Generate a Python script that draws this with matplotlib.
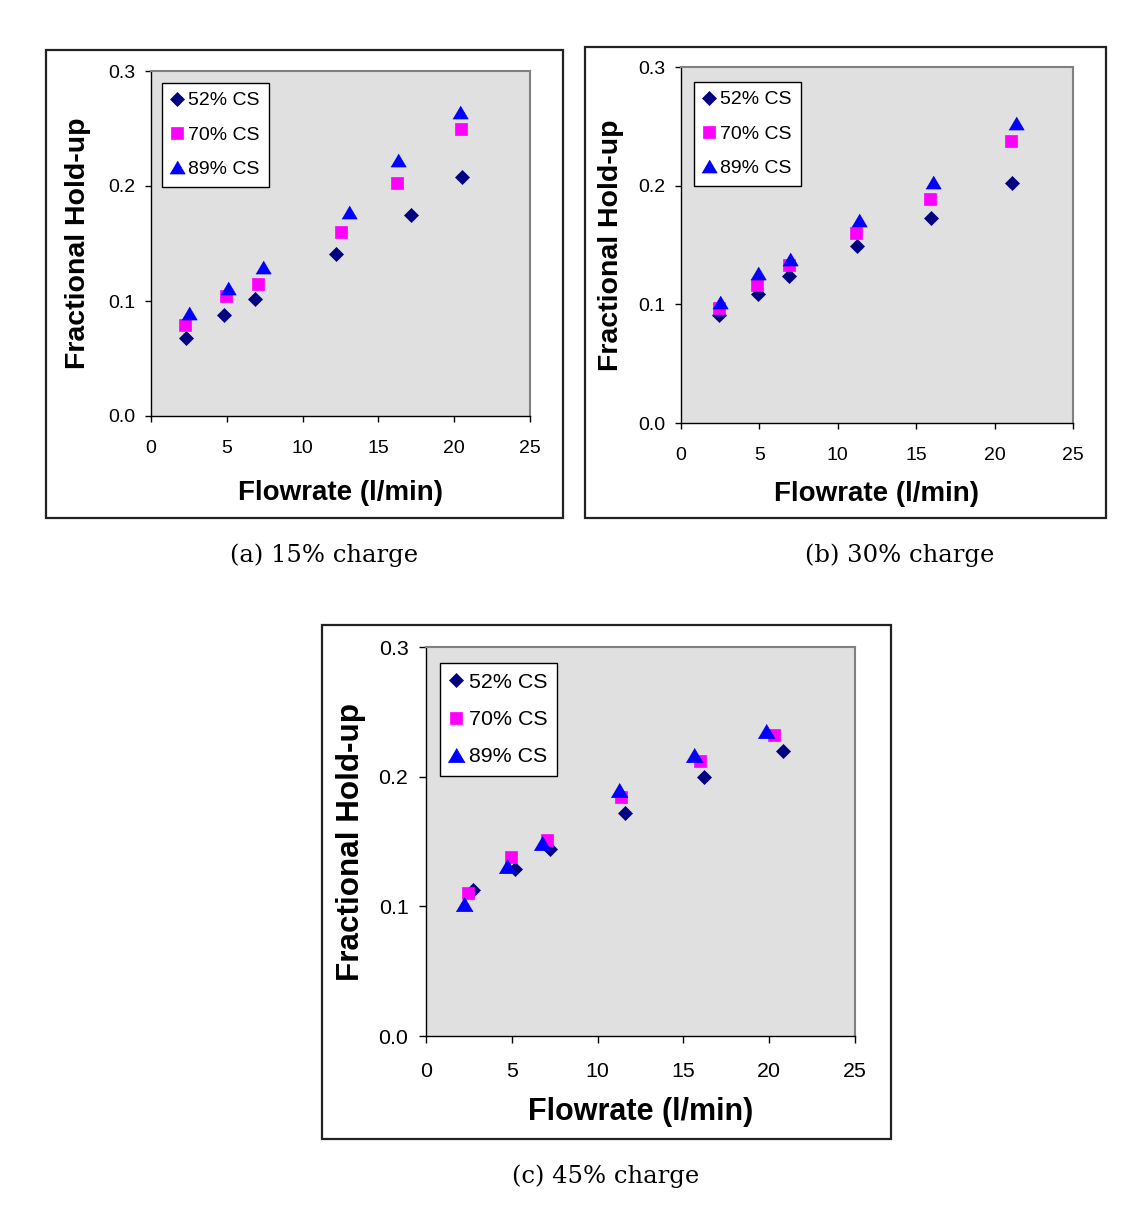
import matplotlib
matplotlib.use("Agg")
import matplotlib.pyplot as plt
from matplotlib.patches import Rectangle

# ---- data (flowrate l/min, fractional hold-up) ----
labels = ["52% CS", "70% CS", "89% CS"]

# (a) 15% charge
x15_52 = [2.32, 4.84, 6.89, 12.18, 17.14, 20.52]
y15_52 = [0.068, 0.088, 0.102, 0.141, 0.175, 0.208]
x15_70 = [2.23, 4.98, 7.07, 12.50, 16.25, 20.48]
y15_70 = [0.079, 0.104, 0.115, 0.160, 0.203, 0.250]
x15_89 = [2.52, 5.07, 7.39, 13.07, 16.32, 20.41]
y15_89 = [0.090, 0.111, 0.130, 0.177, 0.223, 0.264]

# (b) 30% charge
x30_52 = [2.44, 4.90, 6.88, 11.23, 15.93, 21.09]
y30_52 = [0.091, 0.109, 0.124, 0.149, 0.173, 0.202]
x30_70 = [2.44, 4.86, 6.88, 11.18, 15.88, 21.02]
y30_70 = [0.097, 0.116, 0.133, 0.160, 0.189, 0.238]
x30_89 = [2.48, 4.92, 6.92, 11.34, 16.06, 21.35]
y30_89 = [0.102, 0.126, 0.138, 0.171, 0.203, 0.253]

# (c) 45% charge
x45_52 = [2.72, 5.17, 7.25, 11.59, 16.22, 20.79]
y45_52 = [0.1125, 0.129, 0.1445, 0.172, 0.200, 0.220]
x45_70 = [2.42, 4.97, 7.06, 11.39, 15.94, 20.26]
y45_70 = [0.110, 0.138, 0.151, 0.184, 0.212, 0.232]
x45_89 = [2.23, 4.74, 6.74, 11.22, 15.62, 19.81]
y45_89 = [0.102, 0.131, 0.149, 0.190, 0.217, 0.235]

xticks = [0, 5, 10, 15, 20, 25]
yticks = [0.0, 0.1, 0.2, 0.3]

W, H = 1144, 1232
plt.rcParams['font.family'] = ['Liberation Sans', 'DejaVu Sans']
fig = plt.figure(figsize=(W / 100, H / 100), dpi=100)

tri = [(-1, -0.85), (1, -0.85), (0, 0.85)]
styles = [('D', '#000080', 6.8), ('s', '#ff00ff', 8.3), (tri, '#0000ff', 11.0)]


def panel(box, plot, leg_off, cap_xy, cap, xlab_y, ylab_x, k, series):
    bl, bt, br, bb = box
    fig.add_artist(Rectangle((bl / W, 1 - bb / H), (br - bl) / W, (bb - bt) / H,
                             transform=fig.transFigure, fill=False,
                             lw=1.6, ec='#222222'))
    l, t, r, b = plot
    pw, ph = r - l, b - t
    ax = fig.add_axes([l / W, 1 - b / H, pw / W, ph / H])
    ax.set_facecolor('#e0e0e0')

    for (xs, ys), lab, (m, c, ms) in zip(series, labels, styles):
        ax.plot(xs, ys, ls='none', marker=m, ms=ms * k, mfc=c, mec=c,
                mew=0.5, label=lab)

    ax.set_xlim(0, 25)
    ax.set_ylim(0, 0.3)
    ax.set_xticks(xticks)
    ax.set_yticks(yticks)
    ax.set_yticklabels([f"{v:.1f}" for v in yticks])
    for s in ('top', 'right'):
        ax.spines[s].set_color('#808080')
        ax.spines[s].set_linewidth(1.5)
    for s in ('left', 'bottom'):
        ax.spines[s].set_color('black')
        ax.spines[s].set_linewidth(1.0)
    ax.tick_params(direction='out', length=4.5 * k, width=1,
                   labelsize=14 * k, colors='black')
    ax.tick_params(axis='x', pad=12.5 * k)
    ax.tick_params(axis='y', pad=7 * k)

    ax.set_xlabel('Flowrate (l/min)', fontsize=20 * k, fontweight='bold',
                  va='center')
    ax.xaxis.set_label_coords(0.5, -(xlab_y - b) / ph)
    ax.set_ylabel('Fractional Hold-up', fontsize=20.5 * k, fontweight='bold',
                  va='center')
    ax.yaxis.set_label_coords(-(l - ylab_x) / pw, 0.5)

    dx, dy = leg_off
    leg = ax.legend(loc='upper left', bbox_to_anchor=(dx / pw, 1 - dy / ph),
                    borderaxespad=0, frameon=True, fancybox=False,
                    edgecolor='black', framealpha=1, fontsize=14 * k,
                    handlelength=0.6, handletextpad=0.3, labelspacing=0.86,
                    borderpad=0.45, numpoints=1)
    leg.get_frame().set_linewidth(1.0)

    fig.text(cap_xy[0] / W, 1 - cap_xy[1] / H, cap, ha='center', va='center',
             family='DejaVu Serif', fontsize=17.5)


panel((46, 50, 563, 518), (151, 71, 530, 416), (11, 12), (324, 555),
      '(a) 15% charge', 493, 78, 1.0,
      [(x15_52, y15_52), (x15_70, y15_70), (x15_89, y15_89)])
panel((585, 47, 1106, 518), (681, 67, 1073, 423), (13, 15), (900, 555),
      '(b) 30% charge', 494, 611, 1.0,
      [(x30_52, y30_52), (x30_70, y30_70), (x30_89, y30_89)])
panel((322, 625, 891, 1139), (426, 647, 855, 1036), (14, 16), (606, 1176),
      '(c) 45% charge', 1112, 351, 1.1,
      [(x45_52, y45_52), (x45_70, y45_70), (x45_89, y45_89)])

fig.savefig('out.png', dpi=100)
